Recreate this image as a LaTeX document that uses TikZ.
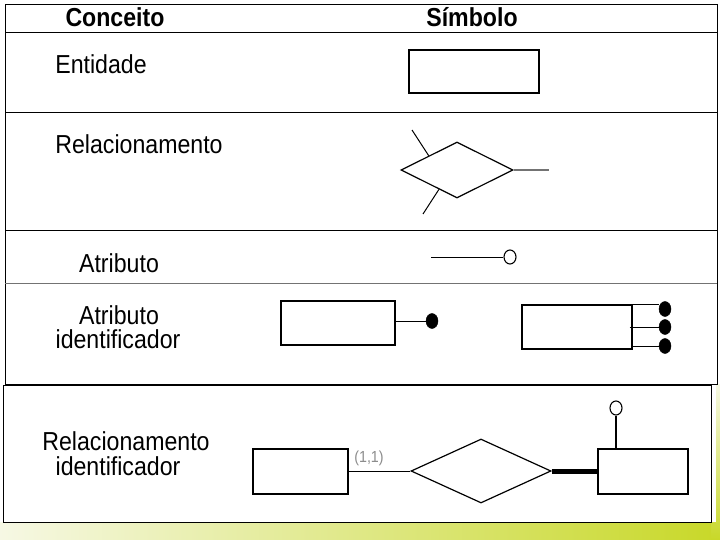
\documentclass[tikz,border=0pt]{standalone}
\usepackage{fontspec}
\setmainfont[FakeStretch=0.89]{Liberation Sans}
\usetikzlibrary{shapes.geometric,calc}
\definecolor{slidegreen}{RGB}{200,216,40}
\definecolor{paleg}{RGB}{246,248,228}
\begin{document}
\begin{tikzpicture}[x=1pt,y=-1pt,
  frame/.style={draw=black,line width=1pt},
  lbl/.style={font=\fontsize{26}{28}\selectfont,inner sep=0pt,anchor=center},
  hdr/.style={font=\fontsize{26}{28}\selectfont\bfseries,inner sep=0pt,anchor=center},
  entbox/.style={draw,line width=1.3pt,rectangle,inner sep=0pt},
  relshape/.style={draw,line width=1.2pt,diamond,inner sep=0pt},
  fdot/.style={ellipse,fill=black,draw=black,inner sep=0pt,minimum width=12pt,minimum height=15pt},
  odot/.style={ellipse,draw=black,line width=1.1pt,inner sep=0pt,minimum width=12pt,minimum height=14pt},
  conn/.style={draw,line width=1pt}]
\useasboundingbox (0,0) rectangle (720,540);
\fill[white] (0,0) rectangle (720,540);
% slide decoration
\shade[left color=paleg,right color=slidegreen] (0,522) rectangle (720,540);
\shade[top color=paleg,bottom color=slidegreen] (711,384) rectangle (720,540);
\fill[white] (711,384) rectangle (716,522);
% frames
\draw[frame] (5,5) rectangle (717,384);
\draw[frame] (5,33) -- (717,33);
\draw[frame] (5,113) -- (717,113);
\draw[frame] (5,231) -- (717,231);
\draw[frame,draw=black!55] (5,283) -- (717,283);
\draw[frame] (3,385) rectangle (711,522);
% header
\node[hdr] (hc) at (115,17) {Conceito};
\node[hdr] (hs) at (472,17) {Símbolo};
% Entidade
\node[lbl] (t1) at (101,64) {Entidade};
\node[entbox,minimum width=130pt,minimum height=43pt] (e1) at (474,71.5) {};
% Relacionamento
\node[lbl] (t2) at (139,144) {Relacionamento};
\node[relshape,minimum width=112pt,minimum height=56pt] (r1) at (457,170) {};
\coordinate (r1e) at (549,170);
\coordinate (r1a) at (412,130);
\coordinate (r1b) at (423,214);
\draw[line width=2.2pt,draw=black!55] (r1.east) -- (r1e);
\draw[conn] ($(r1.west)!0.5!(r1.north)$) -- (r1a);
\draw[conn] ($(r1.west)!0.68!(r1.south)$) -- (r1b);
% Atributo
\node[lbl] (t3) at (119,263) {Atributo};
\node[odot] (a1) at (510,257) {};
\coordinate (a0) at (431,257);
\draw[conn] (a0) -- (a1.west);
% Atributo identificador
\node[lbl] (t4a) at (119,315) {Atributo};
\node[lbl] (t4b) at (118,339) {identificador};
\node[entbox,minimum width=114pt,minimum height=44pt] (b1) at (338,323) {};
\node[fdot] (d1) at (432,321) {};
\draw[conn] (b1.east |- d1) -- (d1.west);
\node[entbox,minimum width=110pt,minimum height=44pt] (b2) at (577,327) {};
\node[fdot] (d2) at (665,309) {};
\node[fdot] (d3) at (665,327) {};
\node[fdot] (d4) at (665,346) {};
\draw[conn] (b2.north east) -- (d2.west |- b2.north east);
\draw[conn] ($(b2.east)+(-3,0)$) -- (d3.west);
\draw[conn] (b2.east |- d4) -- (d4.west);
% Relacionamento identificador
\node[lbl] (t5a) at (126,441) {Relacionamento};
\node[lbl] (t5b) at (118,466) {identificador};
\node[entbox,minimum width=95pt,minimum height=45pt] (c1) at (300.5,471.5) {};
\node[relshape,minimum width=140pt,minimum height=64pt] (r2) at (481,471) {};
\node[entbox,minimum width=90pt,minimum height=45pt] (c2) at (643,471.5) {};
\node[odot] (a2) at (616,408) {};
\draw[conn] (c1.east |- r2.west) -- (r2.west);
\draw[line width=5pt] (r2.east) -- (c2.west |- r2.east);
\draw[line width=1.6pt] (a2.south) -- (a2.south |- c2.north);
\node[font=\fontsize{16}{17}\selectfont,text=black!45,inner sep=0pt] (card) at (369,458) {(1,1)};
\end{tikzpicture}
\end{document}
